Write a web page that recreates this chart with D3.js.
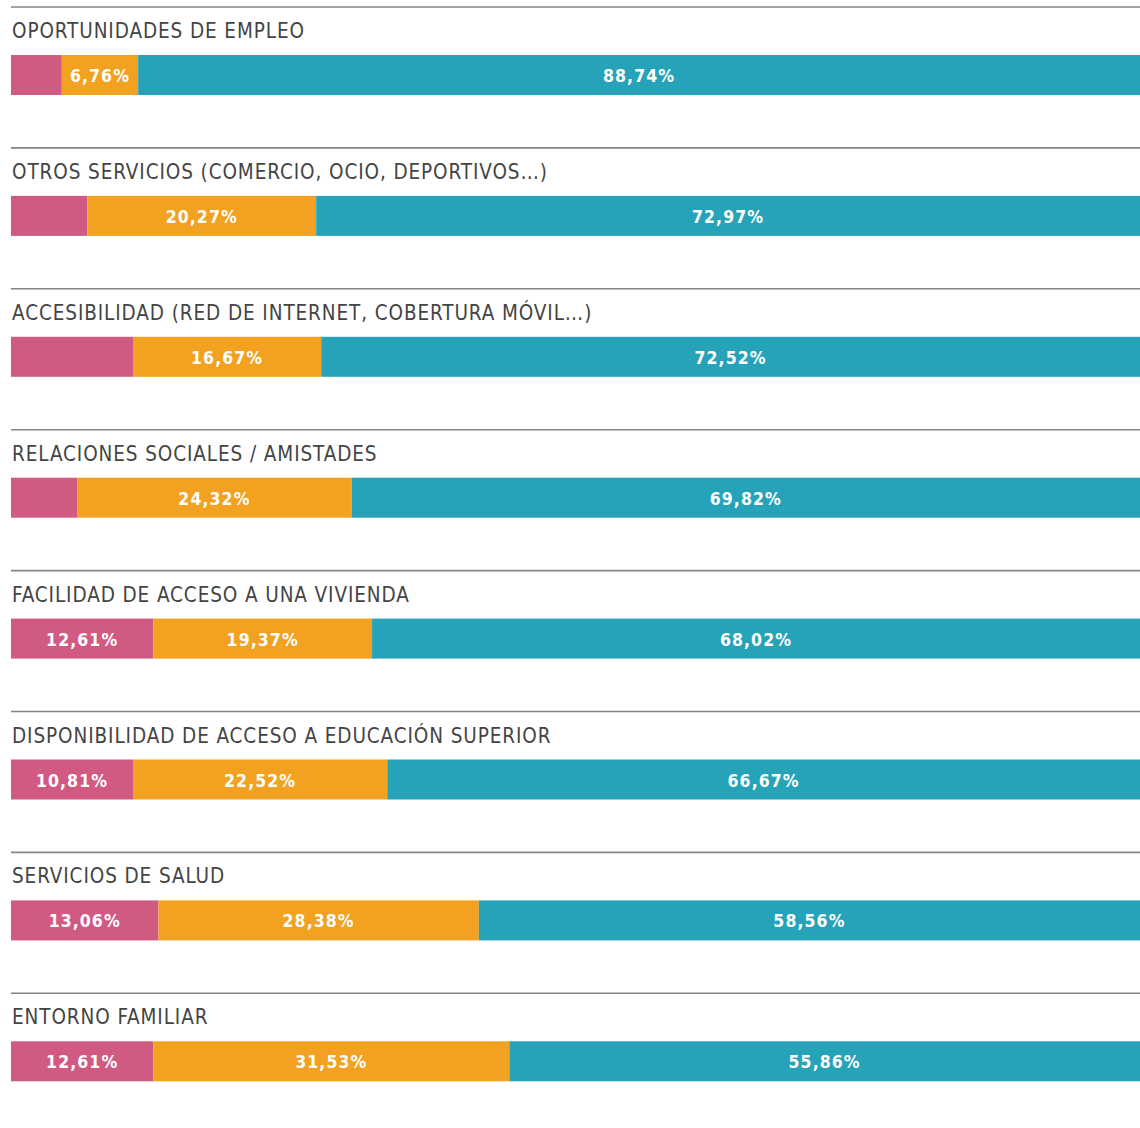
<!DOCTYPE html>
<html><head><meta charset="utf-8">
<script src="https://cdn.jsdelivr.net/npm/d3@7"></script>
<style>body{margin:0;background:#fff}svg{display:block}</style>
</head><body>
<svg id="c" width="1140" height="1128"></svg>
<script>
const categories = [
  "OPORTUNIDADES DE EMPLEO",
  "OTROS SERVICIOS (COMERCIO, OCIO, DEPORTIVOS…)",
  "ACCESIBILIDAD (RED DE INTERNET, COBERTURA MÓVIL…)",
  "RELACIONES SOCIALES / AMISTADES",
  "FACILIDAD DE ACCESO A UNA VIVIENDA",
  "DISPONIBILIDAD DE ACCESO A EDUCACIÓN SUPERIOR",
  "SERVICIOS DE SALUD",
  "ENTORNO FAMILIAR"
];
const pinkValues   = [4.50, 6.76, 10.81, 5.86, 12.61, 10.81, 13.06, 12.61];
const orangeValues = [6.76, 20.27, 16.67, 24.32, 19.37, 22.52, 28.38, 31.53];
const blueValues   = [88.74, 72.97, 72.52, 69.82, 68.02, 66.67, 58.56, 55.86];
const pinkLabelShown = [false, false, false, false, true, true, true, true];
const seriesColors = ["#d15a83", "#f2a120", "#26a3b8"];

const svg = d3.select("#c");
const x = d3.scaleLinear().domain([0, 100]).range([11, 1140]);
const y = d3.scaleBand().domain(categories).range([7, 7 + 8 * 140.9]).paddingInner(0);
const fmt = v => v.toFixed(2).replace(".", ",") + "%";

categories.forEach((cat, i) => {
  const y0 = y(cat);
  const g = svg.append("g");
  g.append("line").attr("x1", 11).attr("x2", 1140).attr("y1", y0).attr("y2", y0)
    .attr("stroke", "#858585").attr("stroke-width", 1.6);
  g.append("text").attr("x", 12).attr("y", y0 + 31)
    .attr("font-family", "'DejaVu Sans Condensed', 'DejaVu Sans', sans-serif")
    .attr("font-size", 20.5).attr("letter-spacing", 0.9).attr("fill", "#444")
    .text(cat);
  const vals = [pinkValues[i], orangeValues[i], blueValues[i]];
  const shown = [pinkLabelShown[i], true, true];
  let acc = 0;
  vals.forEach((v, k) => {
    const x0 = x(acc), x1 = x(acc + v);
    g.append("rect").attr("x", x0).attr("y", y0 + 48).attr("width", x1 - x0).attr("height", 40)
      .attr("fill", seriesColors[k]);
    if (shown[k]) {
      g.append("text").attr("x", (x0 + x1) / 2).attr("y", y0 + 75)
        .attr("text-anchor", "middle")
        .attr("font-family", "'DejaVu Sans Condensed', 'DejaVu Sans', sans-serif")
        .attr("font-weight", "bold").attr("font-size", 17.5).attr("letter-spacing", 1.1)
        .attr("fill", "#fff").text(fmt(v));
    }
    acc += v;
  });
});
</script>
</body></html>
